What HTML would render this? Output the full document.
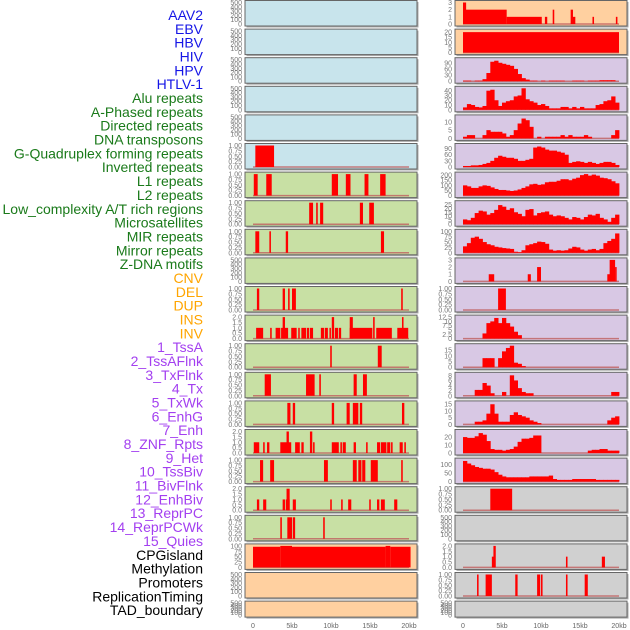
<!DOCTYPE html>
<html><head><meta charset="utf-8">
<style>
body{margin:0;background:#fff;width:630px;height:630px;overflow:hidden;font-family:"Liberation Sans",sans-serif}
svg{position:absolute;left:0;top:0}
</style></head><body>
<svg id="chart" width="630" height="630" xmlns="http://www.w3.org/2000/svg"></svg>
<script>
const labels=["AAV2","EBV","HBV","HIV","HPV","HTLV-1","Alu repeats","A-Phased repeats","Directed repeats","DNA transposons","G-Quadruplex forming repeats","Inverted repeats","L1 repeats","L2 repeats","Low_complexity A/T rich regions","Microsatellites","MIR repeats","Mirror repeats","Z-DNA motifs","CNV","DEL","DUP","INS","INV","1_TssA","2_TssAFlnk","3_TxFlnk","4_Tx","5_TxWk","6_EnhG","7_Enh","8_ZNF_Rpts","9_Het","10_TssBiv","11_BivFlnk","12_EnhBiv","13_ReprPC","14_ReprPCWk","15_Quies","CPGisland","Methylation","Promoters","ReplicationTiming","TAD_boundary"];
const labelGroups=[6,13,5,15,5];
const groupColors=["#1515e6","#1a7a1a","#ffa500","#a33ff0","#000000"];
const xTicks=[0,5,10,15,20];
const xTickLabels=["0","5kb","10kb","15kb","20kb"];
const ticks500=[0,100,200,300,400,500];
const ticks1=[0,0.25,0.5,0.75,1];
const ticks2=[0,0.5,1,1.5,2];
const leftBg=["#c8e4ec","#c8e4ec","#c8e4ec","#c8e4ec","#c8e4ec","#c8e4ec","#c8e0a4","#c8e0a4","#c8e0a4","#c8e0a4","#c8e0a4","#c8e0a4","#c8e0a4","#c8e0a4","#c8e0a4","#c8e0a4","#c8e0a4","#c8e0a4","#c8e0a4","#ffd0a0","#ffd0a0","#ffd0a0"];
const leftMax=[500,500,500,500,500,1,1,1,1,500,1,2,1,1,1,2,1,2,1,100,500,500];
const leftSegs=[[],[],[],[],[],
[[0.3,2.7,1]],
[[0.1,0.6,1],[1.7,2.4,1],[10.1,10.9,1],[11.9,12.5,1],[14.3,14.8,1],[16.3,17,1]],
[[7.2,7.7,1],[8.1,8.3,1],[8.6,9.0,1],[13.7,14.1,1],[14.9,15.5,1]],
[[0.3,0.8,1],[2.1,2.3,1],[4.2,4.5,1],[16.4,16.8,1]],
[],
[[0.5,0.8,1],[3.8,4.1,1],[4.5,4.7,1],[5.0,5.5,1],[19.0,19.2,1]],
[[0.4,1.3,1],[2.2,2.4,1],[2.9,3.5,1],[3.6,4.5,1],[3.8,4.1,2],[4.9,5.6,1],[5.8,5.9,1],[6.2,6.8,1],[6.9,7.2,1],[7.3,7.7,1],[8.7,9.1,1],[9.2,9.6,1],[9.8,9.9,1],[10.1,10.4,2],[10.5,10.9,1],[11.0,11.3,1],[12.4,15.3,1],[12.4,12.8,2],[15.4,15.6,2],[15.8,17.8,1],[18.5,19.9,1],[19.1,19.3,2]],
[[9.9,10.1,1],[16.0,16.5,1]],
[[1.5,2.3,1],[6.8,7.9,1],[8.5,8.7,1],[12.9,13.3,1],[14.1,14.6,1]],
[[4.4,4.8,1],[5.1,5.4,1],[10.1,10.4,1],[12.0,12.4,1],[12.8,13.5,1],[13.7,14.0,1],[19.1,19.4,1]],
[[0.1,0.8,1],[1.3,1.5,1],[1.8,2.1,1],[3.5,4.9,1],[4.3,4.6,2],[5.4,6.0,1],[6.2,6.5,1],[7.3,7.6,2],[7.7,7.9,1],[10.1,11.0,1],[11.2,11.4,1],[11.5,11.9,1],[12.9,13.2,1],[14.5,14.7,1],[15.9,16.3,1],[16.4,17.1,1],[17.2,17.6,1],[17.7,17.9,1],[18.8,19.2,1],[19.4,19.6,1]],
[[0.9,1.3,1],[2.2,2.7,1],[9.1,9.6,1],[12.8,13.3,1],[13.5,13.9,1],[14.0,14.4,1],[15.1,16.0,1],[19.0,19.2,1]],
[[0.5,0.8,1],[1.3,1.7,1],[3.8,4.1,1],[4.2,4.7,1],[4.3,4.7,2],[5.1,5.5,1],[9.9,10.1,1],[11.3,11.5,1],[12.2,12.6,1],[14.9,15.1,1],[15.9,16.2,1],[16.4,16.9,1],[18.1,18.5,1]],
[[3.5,3.7,1],[4.4,5.0,1],[5.1,5.4,1],[9.0,9.2,1]],
[[0,3.5,96],[3.5,5.0,100],[5.0,17,96],[17,17.6,100],[17.6,20.2,96]],
[],[]];
const rightBg=["#ffd0a0","#ffd0a0","#d8c8e4","#d8c8e4","#d8c8e4","#d8c8e4","#d8c8e4","#d8c8e4","#d8c8e4","#d8c8e4","#d8c8e4","#d8c8e4","#d8c8e4","#d8c8e4","#d8c8e4","#d8c8e4","#d8c8e4","#d0d0d0","#d0d0d0","#d0d0d0","#d0d0d0","#d0d0d0"];
const rightMax=[3,21,105,45,13,105,210,27,100,3,1,12.5,19,8.4,16,27,125,1,500,2,1,500];
const rightTicks=[[0,1,2,3],[0,5,10,15,20],[0,30,60,90],[0,10,20,30,40],[0,5,10],[0,30,60,90],[0,50,100,150,200],[0,5,10,15,20,25],[0,25,50,75,100],[0,1,2,3],ticks1,[0,2.5,5,7.5,10,12.5],[0,5,10,15],[0,2,4,6,8],[0,5,10,15],[0,10,20],[0,50,100],ticks1,ticks500,ticks2,ticks1,ticks500];
const rightSegs={
0:[[0,5.6,2],[5.6,10.1,1],[0,0.4,3],[10.5,10.8,1],[11.5,11.7,2],[13.8,14.1,2],[14.1,14.4,1],[16.6,16.8,1],[19.6,19.8,1]],
1:[[0,20,20]],
9:[[3.3,4.0,1],[8.3,8.7,1],[9.5,10.0,2],[18.5,18.9,1],[18.8,19.5,3],[19.5,19.7,2]],
10:[[4.5,5.5,1]],
17:[[3.5,6.3,1]],
19:[[3.7,4.1,1],[3.9,4.2,2],[13.2,13.4,1],[17.8,18.2,1]],
20:[[1.8,2.0,1],[2.9,3.7,1],[6.7,7.0,1],[9.5,9.9,1],[10.0,10.2,1],[13.2,13.4,1],[15.6,16.0,1]]
};
const hivDensity=[3,3,0,3,3,10,40,95,100,90,85,80,75,60,35,15,8,3,3,0,3,0,3,3,3,3,0,0,3,3,3,0,3,3,3,5,5,5,5,0];
const hpvDensity=[5,12,10,6,5,8,40,42,20,8,15,18,20,28,30,45,22,18,15,10,12,8,3,3,3,6,6,3,6,3,6,3,3,3,10,12,18,20,28,15];
const htlvDensity=[1,2,2,0,0,2,5,4,4,4,3,1,2,5,9,12,11,7,0,1,0,1,1,1,1,2,1,2,1,1,1,2,1,0,0,0,0,0,2,5];
const aluDensity=[5,5,8,8,10,15,20,30,45,55,50,45,45,40,30,30,35,40,95,100,95,85,80,80,75,70,60,20,25,28,25,20,25,20,15,20,25,25,20,10];
const aphasedDensity=[100,90,75,75,90,100,95,80,65,55,55,50,45,50,60,75,90,110,115,105,110,130,135,135,145,160,160,150,165,175,200,210,195,205,195,175,170,160,140,120];
const directedDensity=[6,5,8,14,17,16,12,14,18,24,22,18,20,15,13,10,18,19,11,14,15,16,12,10,11,10,8,6,9,8,6,9,12,11,13,8,6,3,8,12];
const dnaDensity=[30,45,70,75,65,50,40,35,28,25,22,20,18,5,3,12,35,40,45,52,50,42,15,10,12,10,12,20,28,25,15,10,15,18,12,18,45,55,65,90];
const insDensity=[0,0,0,0,0,3,9,10,12,9,12,9,7,4,2,0,0,0,0,0,0,0,0,0,0,0,0,0,0,0,0,0,0,0,0,0,0,0,0,0];
const invDensity=[0,0,0,0,0,8,8,8,0,8,14,17,19,4,3,1,0,0,0,0,0,0,0,0,0,0,0,0,0,0,0,0,0,0,0,0,0,0,0,0];
const tssaDensity=[0,0,0,2.3,2.3,5,4,1,0,0,1.5,0,8,6,3,1.5,1,1,0,0,0,0,0,0,0,0,0,0,0,0,0,0,0,0,0,0,0,0,1.5,1.5];
const tssaflnkDensity=[0,0,0,2,2,3,8,15,8,2,2,2,7,9,7,6,5,3,2,1,0,0,0,0,0,0,0,0,0,0,0,0,0,0,0,0,0,3,5,6];
const txflnkDensity=[20,19,19,21,25,23,15,5,4,4,3,4,5,8,14,18,18,19,22,22,0,0,0,0,0,0,0,0,0,0,0,0,3,4,4,5,5,3,3,3];
const txDensity=[120,105,95,85,80,75,75,70,55,40,30,25,25,25,25,25,25,30,30,30,30,30,35,15,10,10,10,10,15,15,15,15,15,15,10,10,10,10,10,10];
const rightDensity={2:hivDensity,3:hpvDensity,4:htlvDensity,5:aluDensity,6:aphasedDensity,7:directedDensity,8:dnaDensity,11:insDensity,12:invDensity,13:tssaDensity,14:tssaflnkDensity,15:txflnkDensity,16:txDensity};

const NS="http://www.w3.org/2000/svg";
const svg=document.getElementById('chart');
function el(tag,attrs,parent){const e=document.createElementNS(NS,tag);for(const k in attrs)e.setAttribute(k,attrs[k]);(parent||svg).appendChild(e);return e;}
const PITCH=28.6;
function panelTop(i){return 0.5+i*PITCH;}
function panelH(i){return i===21?16:25.5;}
function xScale(col,kb){return (col===0?253:463)+kb*7.8;}
function yScale(i,v,max){const t=panelTop(i),h=panelH(i);return t+h-2-(v/max)*(h-4);}

let li=0;
labelGroups.forEach((n,g)=>{for(let k=0;k<n;k++){const t=el('text',{x:203,y:20+li*13.84,'text-anchor':'end','font-size':'14',fill:groupColors[g]});


t.textContent=labels[li];li++;}});

function drawPanel(col,i,bg,max,ticks,segs,dens){
  const px=col===0?245:455,t=panelTop(i),h=panelH(i);
  const g=el('g',{});
  
  
  el('rect',{x:px+1.5,y:t+1.5,width:172,height:h,fill:'#aaa'},g);
  el('rect',{x:px,y:t,width:172,height:h,fill:bg,stroke:'#666','stroke-width':1},g);
  const hasData=(segs&&segs.length)||dens;
  if(hasData)el('line',{x1:xScale(col,0),x2:xScale(col,20),y1:yScale(i,0,max),y2:yScale(i,0,max),stroke:'#c06060','stroke-width':1.5,opacity:0.8},g);
  (segs||[]).forEach(s=>{const y=yScale(i,s[2],max);const r=el('rect',{x:xScale(col,s[0]),y:y,width:Math.max(1.5,xScale(col,s[1])-xScale(col,s[0])),height:yScale(i,0,max)-y,fill:'#ff0000'},g);
    
    });
  if(dens){dens.forEach((v,b)=>{if(v<=0)return;const y=yScale(i,v,max);const r=el('rect',{x:xScale(col,b*0.5),y:y,width:xScale(col,0.5)-xScale(col,0)+0.4,height:yScale(i,0,max)-y,fill:'#ff0000'},g);
    
    });}
  ticks.forEach(v=>{const tt=el('text',{x:px-3,y:yScale(i,v,max)+2.5,'text-anchor':'end','font-size':'7',fill:'#777'},g);
    
    
    tt.textContent=(max<=1?v.toFixed(2):(ticks===ticks2?v.toFixed(1):String(v)));});
}
function leftTicks(m){return m===500?ticks500:(m===1?ticks1:(m===2?ticks2:[0,25,50,75,100]));}
for(let i=0;i<22;i++){drawPanel(0,i,leftBg[i],leftMax[i],leftTicks(leftMax[i]),leftSegs[i],null);}
for(let i=0;i<22;i++){drawPanel(1,i,rightBg[i],rightMax[i],rightTicks[i],rightSegs[i],rightDensity[i]);}
[0,1].forEach(col=>{xTicks.forEach((v,k)=>{const t=el('text',{x:xScale(col,v),y:628,'text-anchor':'middle','font-size':'7',fill:'#666'});


t.textContent=xTickLabels[k];});});
</script>
</body></html>
